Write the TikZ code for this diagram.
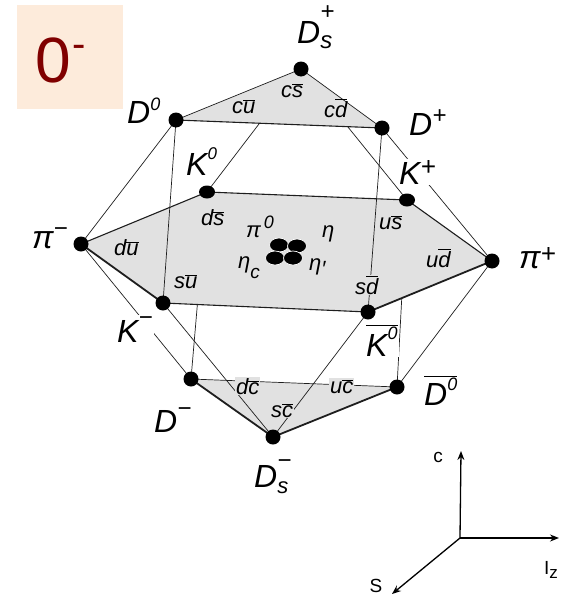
\documentclass[tikz,border=0pt]{standalone}
\usepackage{fontspec}
\setmainfont{Liberation Sans}
\usetikzlibrary{arrows.meta,shapes.geometric}
\definecolor{facegray}{RGB}{225,225,225}
\definecolor{peach}{RGB}{253,235,219}
\definecolor{darkred}{RGB}{128,0,0}
\definecolor{edgecol}{RGB}{30,30,30}
\newcommand\lsup[3]{\raisebox{#1}{\fontsize{#2}{#2}\selectfont #3}}
\newcommand\qb[1]{\ensuremath{\overline{\hbox{#1}}}}
\tikzset{
  bigl/.style={font=\fontsize{32}{36}\selectfont\itshape, anchor=base west, inner sep=0pt},
  smalll/.style={font=\fontsize{22}{25}\selectfont\itshape, anchor=base west, inner sep=0pt},
  onwhite/.style={fill=white, inner sep=1pt},
  ongray/.style={fill=facegray, inner sep=1pt},
  vdot/.style={circle, fill=black, inner sep=0pt, minimum size=15pt},
  kdot/.style={ellipse, fill=black, inner sep=0pt, minimum width=16pt, minimum height=13pt},
  cdot/.style={ellipse, fill=black, draw=white, line width=0.7pt, inner sep=0pt, minimum width=19pt, minimum height=14pt},
  ethin/.style={line width=0.7pt, draw=edgecol},
  emed/.style={line width=1.1pt, draw=edgecol, line join=round},
  ethick/.style={line width=1.8pt, draw=edgecol, line join=round},
  axis/.style={line width=1.3pt, -{Stealth[length=9pt,width=7pt]}},
  axlab/.style={font=\fontsize{19}{22}\selectfont, inner sep=0pt}
}
\begin{document}
\begin{tikzpicture}[x=1pt,y=-1pt]
\useasboundingbox (0,0) rectangle (568,597);
% vertices
\coordinate (Dsp) at (301,69);
\coordinate (D0) at (176,120);
\coordinate (Dp) at (382,128);
\coordinate (K0) at (207,192);
\coordinate (Kp) at (407,200);
\coordinate (pip) at (492,261);
\coordinate (Kbz) at (368,312);
\coordinate (Km) at (163,303);
\coordinate (pim) at (81,244);
\coordinate (Dm) at (191,379);
\coordinate (Dbz) at (397,387);
\coordinate (Dsm) at (273,437);
% hidden edges
\draw[ethin] (Dsp) -- (K0);
\draw[ethin] (Dsp) -- (Kp);
\draw[ethin] (K0) -- (Dm);
\draw[ethin] (Kp) -- (Dbz);
% faces
\fill[facegray] (Dsp) -- (Dp) -- (D0) -- cycle;
\fill[facegray] (pim) -- (K0) -- (Kp) -- (pip) -- (Kbz) -- (Km) -- cycle;
\fill[facegray] (Dm) -- (Dbz) -- (Dsm) -- cycle;
% face edges
\draw[ethin] (D0) -- (Dsp) -- (Dp);
\draw[emed] (D0) -- (Dp);
\draw[emed] (pim) -- (K0) -- (Kp) -- (pip);
\draw[ethick] (pip) -- (Kbz);
\draw[emed] (Kbz) -- (Km);
\draw[ethick] (Km) -- (pim);
\draw[ethin] (Dm) -- (Dbz);
\draw[ethick] (Dm) -- (Dsm) -- (Dbz);
% front edges
\draw[ethin] (D0) -- (Km);
\draw[ethin] (Dp) -- (Kbz);
\draw[ethin] (Km) -- (Dsm);
\draw[ethin] (Kbz) -- (Dsm);
\draw[ethin] (D0) -- (pim);
\draw[ethin] (Dp) -- (pip);
\draw[ethin] (pim) -- (Dm);
\draw[ethin] (pip) -- (Dbz);
% dots
\node[vdot] (nDsp) at (Dsp) {};
\node[vdot] (nD0) at (D0) {};
\node[vdot] (nDp) at (Dp) {};
\node[kdot] (nK0) at (K0) {};
\node[kdot] (nKp) at (Kp) {};
\node[vdot] (npip) at (pip) {};
\node[vdot] (nKbz) at (Kbz) {};
\node[vdot] (nKm) at (Km) {};
\node[vdot] (npim) at (pim) {};
\node[vdot] (nDm) at (Dm) {};
\node[vdot] (nDbz) at (Dbz) {};
\node[vdot] (nDsm) at (Dsm) {};
\node[cdot] (c1) at (279,245) {};
\node[cdot] (c2) at (297,246) {};
\node[cdot] (c3) at (275,258) {};
\node[cdot] (c4) at (293,258) {};
% big labels
\node[bigl] (lDsp) at (297,43) {D\rlap{\lsup{24pt}{24}{+}}\lsup{-5pt}{24}{s}};
\node[bigl] (lD0) at (127,123) {D\lsup{13pt}{18}{0}};
\node[bigl] (lDp) at (409,135) {D\lsup{12pt}{24}{+}};
\node[bigl] (lK0) at (186,175) {K\lsup{16pt}{17}{0}};
\node[bigl, onwhite] (lKp) at (398,184) {K\lsup{9pt}{26}{+}};
\node[bigl] (lpim) at (32,248) {π\lsup{12pt}{24}{−}};
\node[bigl] (lpip) at (519,268) {π\lsup{6pt}{26}{+}};
\node[bigl, onwhite] (lKm) at (116,342) {K\lsup{17pt}{24}{−}};
\node[bigl, onwhite] (lKbz) at (365,356) {\qb{K\lsup{17pt}{18}{0}}};
\node[bigl] (lDm) at (154,432) {D\lsup{16pt}{24}{−}};
\node[bigl] (lDbz) at (424,405) {\qb{D\lsup{15pt}{18}{0}}};
\node[bigl] (lDsm) at (254,487) {D\rlap{\lsup{19pt}{24}{−}}\lsup{-6pt}{22}{s}};
% quark labels
\node[smalll] (qcs) at (281,97) {c\qb{s}};
\node[smalll] (qcu) at (232,113) {c\qb{u}};
\node[smalll] (qcd) at (324,117) {c\qb{d}};
\node[smalll] (qds) at (201,225) {d\qb{s}};
\node[smalll] (qus) at (379,229) {u\qb{s}};
\node[smalll] (qdu) at (114,255) {d\qb{u}};
\node[smalll] (qsu) at (174,288) {s\qb{u}};
\node[smalll] (qud) at (426,267) {u\qb{d}};
\node[smalll, ongray] (qsd) at (354,294) {s\qb{d}};
\node[smalll] (qpi0) at (246,237) {π\kern3pt\lsup{9pt}{18}{0}};
\node[smalll] (qeta) at (322,237) {η};
\node[smalll] (qetac) at (238,268) {η\lsup{-10pt}{19}{c}};
\node[smalll] (qetap) at (309,270) {η\raisebox{-6pt}{′}};
\node[smalll, ongray] (qdc) at (235,394) {d\qb{c}};
\node[smalll, ongray] (quc) at (329,393) {u\qb{c}};
\node[smalll, ongray] (qsc) at (270,417) {s\qb{c}};
% multiplet box
\node[fill=peach, minimum width=106pt, minimum height=104pt, inner sep=0pt] (box) at (70,57) {};
\node[anchor=base west, inner sep=0pt, text=darkred, font=\fontsize{64}{64}\selectfont] (boxtext) at (35,82) {0\kern2pt\lsup{24.7pt}{40}{-}};
% axes
\coordinate (O) at (460,538);
\coordinate (cT) at (461,451);
\coordinate (iT) at (559,538);
\coordinate (sT) at (392,594);
\draw[axis] (O) -- (cT);
\draw[axis] (O) -- (iT);
\draw[axis] (O) -- (sT);
\node[axlab] (lc) at (438,457) {c};
\node[axlab] (liz) at (551,570) {I\lsup{-4pt}{17}{z}};
\node[axlab] (ls) at (376,586) {S};
\end{tikzpicture}
\end{document}
